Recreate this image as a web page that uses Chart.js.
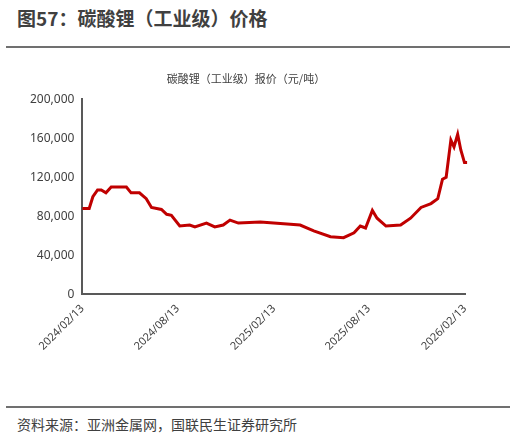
<!DOCTYPE html>
<html><head><meta charset="utf-8">
<script src="https://cdn.jsdelivr.net/npm/chart.js@4"></script>
<style>
body{margin:0;width:516px;height:441px;background:#fff;font-family:"Noto Sans CJK SC",sans-serif;position:relative;overflow:hidden}
#t{position:absolute;left:17px;top:4px;font-size:19px;font-weight:bold;color:#404040}
.rule{position:absolute;left:6px;width:504px;height:2px;background:#707070}
#src{position:absolute;left:17px;top:414px;font-size:14px;color:#404040}
#box{position:absolute;left:0;top:52px;width:516px;height:350px}
</style></head><body>
<div id="t">图57：碳酸锂（工业级）价格</div>
<div class="rule" style="top:46px"></div>
<div id="box"><canvas id="c"></canvas></div>
<div class="rule" style="top:406px"></div>
<div id="src">资料来源：亚洲金属网，国联民生证券研究所</div>
<script>
// days since 2024/02/13
var days = [0,13,20,29,36,45,55,84,93,109,122,132,151,161,170,186,205,215,237,253,269,282,298,340,391,416,442,474,499,519,531,541,554,563,580,608,627,647,666,679,688,695,704,710,717,723,730,735];
var prices = [88000,88000,100000,107000,107000,104000,110000,110000,104000,104000,98000,89000,87000,82000,81000,70000,71000,69000,73000,69000,71000,76000,73000,74000,72000,71000,65000,59000,58000,63000,70000,68000,86000,78000,70000,71000,78000,89000,93000,98000,118000,120000,158000,151000,164000,148000,135000,135000];
var tickDays = [0,182,366,547,731];
var tickLabels = ['2024/02/13','2024/08/13','2025/02/13','2025/08/13','2026/02/13'];

var pts = [];
for (var i = 0; i < days.length; i++) pts.push({x: days[i], y: prices[i]});

new Chart(document.getElementById('c').getContext('2d'), {
  type: 'line',
  data: {datasets: [{data: pts, borderColor: '#c00000', borderWidth: 3, pointRadius: 0, tension: 0, fill: false, clip: false}]},
  options: {
    responsive: true, maintainAspectRatio: false, animation: false,
    layout: {padding: {left: 27, right: 51, top: 0, bottom: 46}},
    plugins: {
      legend: {display: false},
      title: {display: true, text: '碳酸锂（工业级）报价（元/吨）', color: '#404040',
        font: {size: 11, family: 'Noto Sans CJK SC', weight: 'normal'}, padding: {top: 20, bottom: 14}}
    },
    scales: {
      x: {type: 'linear', min: 0, max: 731,
        afterBuildTicks: function(a){ a.ticks = tickDays.map(function(v){return {value: v};}); },
        grid: {display: false, drawTicks: true, tickLength: 5, tickColor: '#595959'},
        border: {color: '#595959', width: 2},
        ticks: {color: '#404040', font: {size: 11, family: 'Noto Sans'}, maxRotation: 45, minRotation: 45,
          callback: function(v){ var k = tickDays.indexOf(v); return k < 0 ? '' : tickLabels[k]; }}
      },
      y: {min: 0, max: 200000,
        grid: {display: false, tickLength: 5, tickColor: '#595959'},
        border: {color: '#595959', width: 2},
        ticks: {stepSize: 40000, color: '#404040', font: {size: 12, family: 'Noto Sans'},
          callback: function(v){ return v.toLocaleString('en-US'); }}
      }
    }
  }
});
</script>
</body></html>
